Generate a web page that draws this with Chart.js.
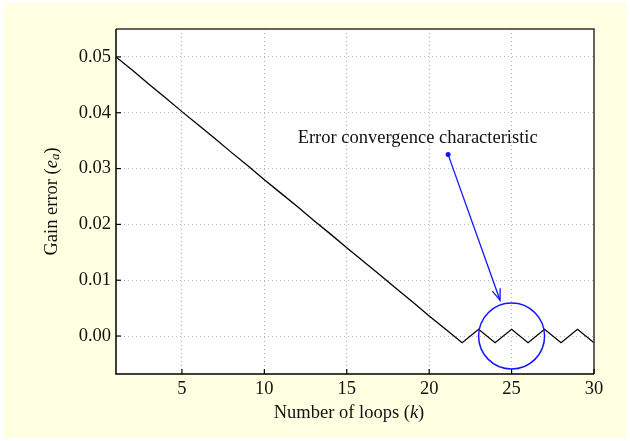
<!DOCTYPE html>
<html>
<head>
<meta charset="utf-8">
<script src="https://cdn.jsdelivr.net/npm/chart.js@4"></script>
<style>
  body { margin: 0; background: #fff; }
  #wrap { width: 630px; height: 441px; }
</style>
</head>
<body>
<div id="wrap"><canvas id="gainChart" width="630" height="441"></canvas></div>
<script>
// loop index k and the measured gain error e_a
const loops = [1, 2, 3, 4, 5, 6, 7, 8, 9, 10, 11, 12, 13, 14, 15,
               16, 17, 18, 19, 20, 21, 22, 23, 24, 25, 26, 27, 28, 29, 30];
const gainError = [0.0500, 0.0476, 0.0451, 0.0427, 0.0402, 0.0378, 0.0354, 0.0329, 0.0305, 0.0280,
                   0.0256, 0.0232, 0.0207, 0.0183, 0.0158, 0.0134, 0.0110, 0.0085, 0.0061, 0.0036,
                   0.0012, -0.0012, 0.0012, -0.0012, 0.0012, -0.0012, 0.0012, -0.0012, 0.0012, -0.0012];
const xTicks = [5, 10, 15, 20, 25, 30];
const yTicks = [0.00, 0.01, 0.02, 0.03, 0.04, 0.05];

const serif = '"Liberation Serif", "DejaVu Serif", serif';
const fontSize = 18.5;
const blue = '#1414ff';

// callout: label, leader dot, arrow tip and the ring around the oscillation
const callout = {
    text: 'Error convergence characteristic',
    textAt: { x: 19.3, y: 0.0346 },
    dotAt: { x: 21.15, y: 0.0325 },
    tipAt: { x: 24.3, y: 0.0064 },
    ringAt: { x: 25, y: 0.0 },
    ringRadius: 33
};

const ctx = document.getElementById('gainChart').getContext('2d');

// draws a run of text pieces (some italic / subscript) centred on 0,0
function drawRich(c, parts, size) {
    const fontOf = p => (p.italic ? 'italic ' : '') + (p.sub ? size * 0.7 : size) + 'px ' + serif;
    const widths = parts.map(p => {
        c.font = fontOf(p);
        return c.measureText(p.t).width;
    });
    let x = -widths.reduce((a, b) => a + b, 0) / 2;
    parts.forEach((p, i) => {
        c.font = fontOf(p);
        c.fillText(p.t, x, p.sub ? size * 0.22 : 0);
        x += widths[i];
    });
}

const decor = {
    id: 'decor',
    beforeDraw(chart) {
        const c = chart.ctx, a = chart.chartArea;
        c.save();
        c.fillStyle = '#ffffff';
        c.fillRect(0, 0, chart.width, chart.height);
        c.fillStyle = '#ffffe2';
        c.fillRect(4, 3, chart.width - 8, chart.height - 6);
        c.fillStyle = '#ffffff';
        c.fillRect(a.left, a.top, a.right - a.left, a.bottom - a.top);
        c.restore();
    },
    afterDraw(chart) {
        const c = chart.ctx, a = chart.chartArea;
        const xs = chart.scales.x, ys = chart.scales.y;
        c.save();

        // frame
        c.strokeStyle = '#333';
        c.lineWidth = 1.5;
        c.beginPath();
        c.moveTo(a.left, a.top);
        c.lineTo(a.right, a.top);
        c.lineTo(a.right, a.bottom);
        c.stroke();
        c.strokeStyle = '#000';
        c.beginPath();
        c.moveTo(a.left, a.top);
        c.lineTo(a.left, a.bottom);
        c.lineTo(a.right, a.bottom);
        c.stroke();

        // inward tick marks
        c.lineWidth = 1.2;
        xTicks.forEach(v => {
            const px = xs.getPixelForValue(v);
            c.beginPath();
            c.moveTo(px, a.bottom);
            c.lineTo(px, a.bottom - 5);
            c.stroke();
        });
        yTicks.forEach(v => {
            const py = ys.getPixelForValue(v);
            c.beginPath();
            c.moveTo(a.left, py);
            c.lineTo(a.left + 5, py);
            c.stroke();
        });

        // axis titles
        c.fillStyle = '#111';
        c.textBaseline = 'middle';
        c.save();
        c.translate((a.left + a.right) / 2 - 6, 413);
        drawRich(c, [{ t: 'Number of loops (' }, { t: 'k', italic: true }, { t: ')' }], fontSize);
        c.restore();
        c.save();
        c.translate(52, (a.top + a.bottom) / 2);
        c.rotate(-Math.PI / 2);
        drawRich(c, [{ t: 'Gain error (' }, { t: 'e', italic: true }, { t: 'a', italic: true, sub: true }, { t: ')' }], fontSize);
        c.restore();

        // callout
        const tx = xs.getPixelForValue(callout.textAt.x), ty = ys.getPixelForValue(callout.textAt.y);
        c.font = fontSize + 'px ' + serif;
        c.textAlign = 'center';
        c.textBaseline = 'alphabetic';
        c.fillText(callout.text, tx, ty);

        const dx = xs.getPixelForValue(callout.dotAt.x), dy = ys.getPixelForValue(callout.dotAt.y);
        const ax = xs.getPixelForValue(callout.tipAt.x), ay = ys.getPixelForValue(callout.tipAt.y);
        c.strokeStyle = blue;
        c.fillStyle = blue;
        c.lineWidth = 1.3;
        c.beginPath();
        c.arc(dx, dy, 2.5, 0, Math.PI * 2);
        c.fill();
        c.beginPath();
        c.moveTo(dx, dy);
        c.lineTo(ax, ay);
        c.stroke();
        const ang = Math.atan2(ay - dy, ax - dx), head = 12, spread = 0.35;
        c.beginPath();
        c.moveTo(ax - head * Math.cos(ang - spread), ay - head * Math.sin(ang - spread));
        c.lineTo(ax, ay);
        c.lineTo(ax - head * Math.cos(ang + spread), ay - head * Math.sin(ang + spread));
        c.stroke();

        c.lineWidth = 1.5;
        c.beginPath();
        c.arc(xs.getPixelForValue(callout.ringAt.x), ys.getPixelForValue(callout.ringAt.y),
              callout.ringRadius, 0, Math.PI * 2);
        c.stroke();
        c.restore();
    }
};

new Chart(ctx, {
    type: 'line',
    data: {
        labels: loops,
        datasets: [{
            data: loops.map((k, i) => ({ x: k, y: gainError[i] })),
            borderColor: '#000',
            borderWidth: 1.3,
            pointRadius: 0,
            tension: 0,
            fill: false
        }]
    },
    options: {
        responsive: false,
        animation: false,
        layout: { padding: { top: 29, right: 36, left: 0, bottom: 0 } },
        plugins: { legend: { display: false }, tooltip: { enabled: false } },
        scales: {
            x: {
                type: 'linear',
                min: 1,
                max: 30,
                afterBuildTicks: s => { s.ticks = xTicks.map(v => ({ value: v })); },
                afterFit: s => { s.height = 67; },
                border: { display: false, dash: [1, 3] },
                grid: { color: '#b4b4b4', lineWidth: 1, drawTicks: false },
                ticks: { padding: 4, color: '#111', font: { family: serif, size: fontSize }, maxRotation: 0 }
            },
            y: {
                min: -0.0068,
                max: 0.055,
                afterBuildTicks: s => { s.ticks = yTicks.map(v => ({ value: v })); },
                afterFit: s => { s.width = 116; },
                border: { display: false, dash: [1, 3] },
                grid: { color: '#b4b4b4', lineWidth: 1, drawTicks: false },
                ticks: {
                    padding: 5,
                    color: '#111',
                    font: { family: serif, size: fontSize },
                    callback: v => v.toFixed(2)
                }
            }
        }
    },
    plugins: [decor]
});
</script>
</body>
</html>
